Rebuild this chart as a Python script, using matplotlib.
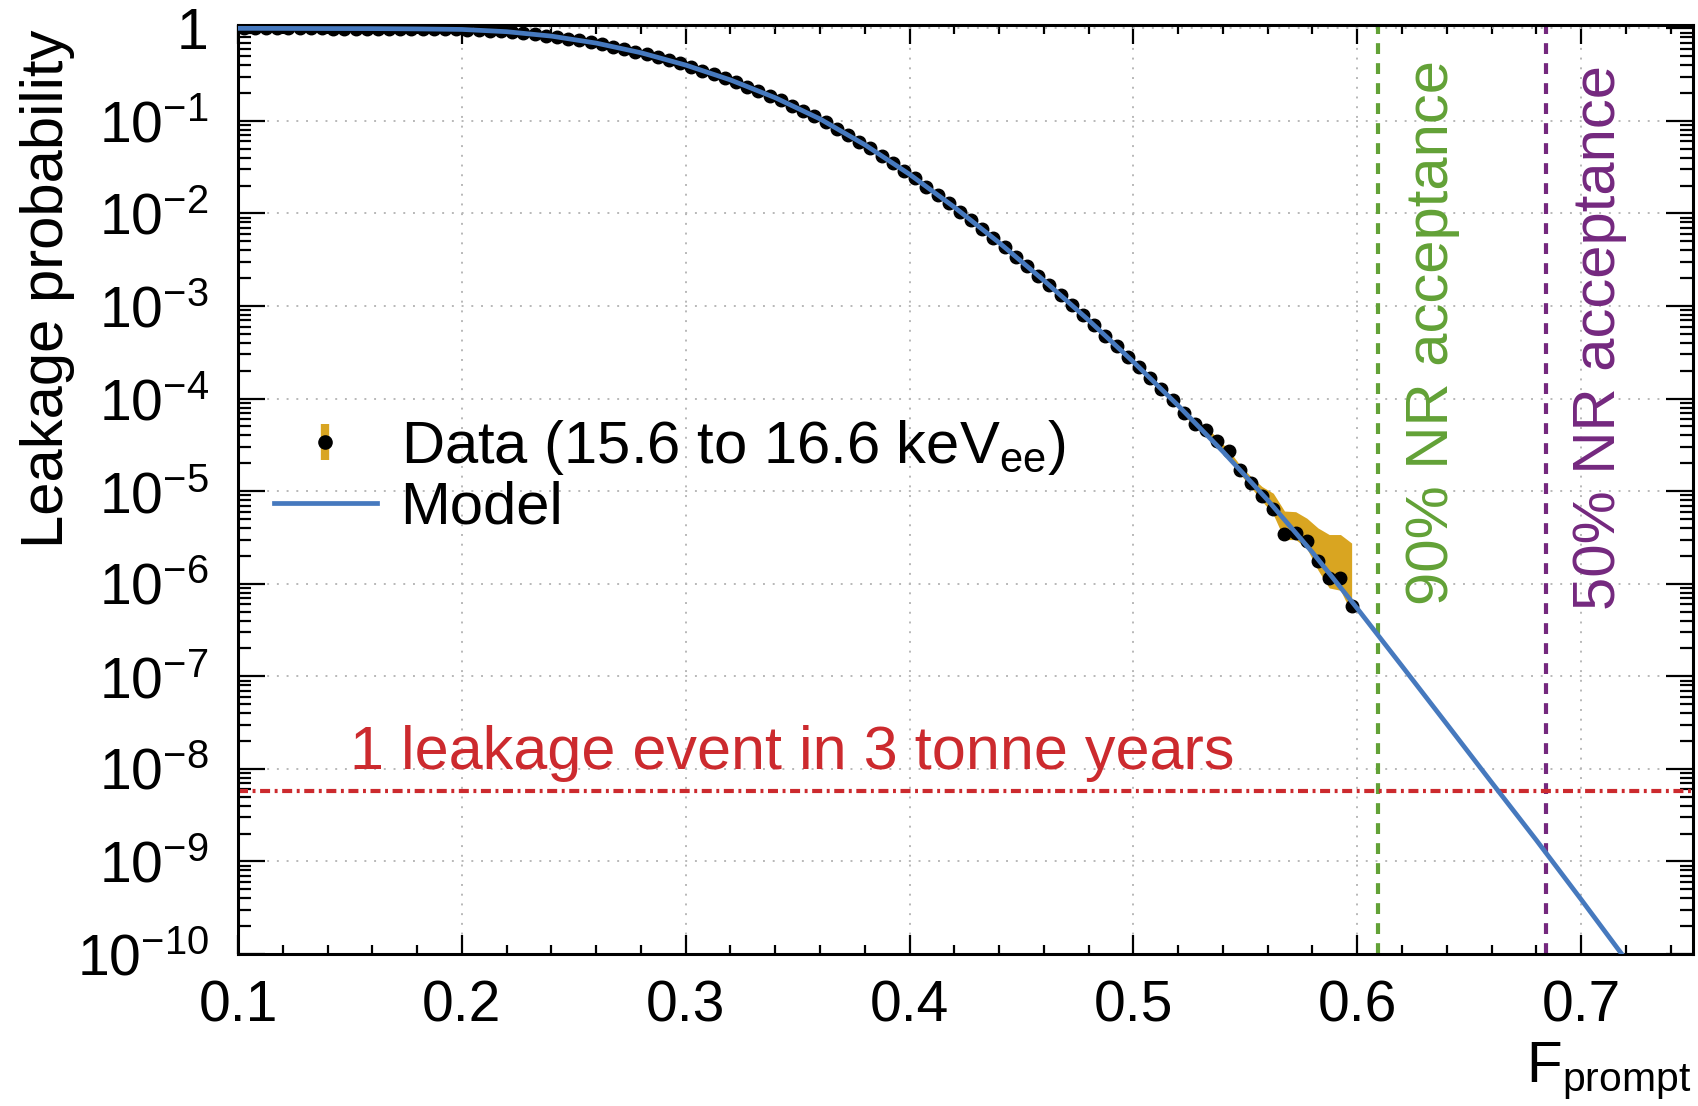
import numpy as np
import matplotlib
matplotlib.use("Agg")
import matplotlib.pyplot as plt
from matplotlib.ticker import MultipleLocator, LogLocator, FuncFormatter, NullFormatter
from matplotlib.lines import Line2D
from matplotlib.legend_handler import HandlerTuple

# ---------------- data ----------------
# Data histogram: bins of width 0.005 in F_prompt starting at 0.100
bin_start = 0.100
bin_width = 0.005
data_prob = [
    1.000, 1.000, 0.999, 0.999, 0.998, 0.997, 0.997, 0.996, 0.995, 0.995,
    0.994, 0.993, 0.992, 0.991, 0.989, 0.987, 0.985, 0.981, 0.978, 0.974,
    0.966, 0.953, 0.940, 0.927, 0.908, 0.883, 0.859, 0.836, 0.806, 0.772,
    0.740, 0.709, 0.673, 0.633, 0.596, 0.561, 0.524, 0.485, 0.450, 0.417,
    0.383, 0.349, 0.318, 0.290, 0.262, 0.235, 0.210, 0.188, 0.167, 0.146,
    0.128, 0.112, 0.0969, 0.0825, 0.0704, 0.0599, 0.0505, 0.0420, 0.0349, 0.0290,
    0.0239, 0.0195, 0.0159, 0.0130, 0.0105, 8.40e-3, 6.74e-3, 5.40e-3, 4.31e-3, 3.40e-3,
    2.69e-3, 2.13e-3, 1.67e-3, 1.31e-3, 1.02e-3, 7.96e-4, 6.17e-4, 4.77e-4, 3.68e-4, 2.84e-4,
    2.18e-4, 1.66e-4, 1.26e-4, 9.60e-5, 6.97e-5, 5.30e-5, 4.60e-5, 3.44e-5, 2.69e-5, 1.70e-5,
    1.22e-5, 8.77e-6, 6.41e-6, 3.47e-6, 3.52e-6, 2.91e-6, 1.74e-6, 1.15e-6, 1.15e-6, 5.69e-7,
]
# Error band on the tail (last 16 bins)
band_upper = [7.4e-5, 5.8e-5, 5.0e-5, 3.74e-5, 2.80e-5, 1.93e-5, 1.44e-5, 1.12e-5,
              9.5e-6, 6.1e-6, 6.0e-6, 5.1e-6, 4.0e-6, 3.4e-6, 3.4e-6, 2.75e-6]
band_lower = [6.6e-5, 5.0e-5, 4.3e-5, 3.2e-5, 2.5e-5, 1.55e-5, 1.10e-5, 7.8e-6,
              5.6e-6, 3.0e-6, 3.0e-6, 2.4e-6, 1.4e-6, 9.0e-7, 8.5e-7, 4.82e-7]

# Model curve
model_f = [0.10, 0.12, 0.14, 0.16, 0.18, 0.20, 0.22, 0.24, 0.26, 0.28,
           0.30, 0.32, 0.34, 0.36, 0.38, 0.40, 0.42, 0.44, 0.46, 0.48,
           0.50, 0.52, 0.54, 0.56, 0.58, 0.60, 0.62, 0.64, 0.66, 0.68,
           0.70, 0.72]
model_prob = [1.000, 0.998, 0.995, 0.993, 0.986, 0.973, 0.920, 0.824, 0.693, 0.545,
              0.401, 0.277, 0.178, 0.105, 0.0553, 0.0265, 0.0117, 4.84e-3, 1.89e-3, 7.03e-4,
              2.49e-4, 8.41e-5, 2.68e-5, 8.00e-6, 2.18e-6, 5.41e-7, 1.29e-7, 3.05e-8, 7.16e-9, 1.70e-9,
              3.89e-10, 8.71e-11]

nr90_f = 0.6094
nr50_f = 0.6845
one_event_level = 5.8e-9

# ---------------- style ----------------
plt.rcParams['font.family'] = ['Liberation Sans', 'DejaVu Sans']
plt.rcParams['mathtext.fontset'] = 'custom'
plt.rcParams['mathtext.rm'] = 'Liberation Sans'
plt.rcParams['mathtext.it'] = 'Liberation Sans:italic'
plt.rcParams['mathtext.bf'] = 'Liberation Sans:bold'
plt.rcParams['mathtext.sf'] = 'Liberation Sans'
plt.rcParams['mathtext.default'] = 'regular'

BLUE = '#4679be'
GOLD = '#d9a521'
GREEN = '#62a136'
PURPLE = '#74287e'
RED = '#cc2a2e'

W, H = 1699, 1106
fig = plt.figure(figsize=(W / 100, H / 100), dpi=100)
ax = fig.add_axes([238 / W, 1 - 954 / H, (1693 - 238) / W, (954 - 24.5) / H])

f_centers = bin_start + bin_width * (np.arange(len(data_prob)) + 0.5)
nb = len(band_upper)

ax.set_yscale('log')
ax.set_xlim(0.1, 0.75)
ax.set_ylim(1e-10, 1.10)

ax.set_axisbelow(True)
ax.grid(True, which='major', color='#b8b8b8', linestyle=(0, (1, 4)), linewidth=1.4)

ax.axvline(nr90_f, color=GREEN, linestyle=(0, (2.6, 2.2)), lw=3.0, zorder=2)
ax.axvline(nr50_f, color=PURPLE, linestyle=(0, (2.6, 2.2)), lw=3.0, zorder=2)
ax.axhline(one_event_level, color=RED, linestyle=(0, (2.4, 1.1, 0.7, 1.1)), lw=3.0, zorder=2)

ax.fill_between(f_centers[-nb:], band_lower, band_upper, color=GOLD, lw=0, zorder=3)
ax.plot(f_centers, data_prob, 'o', color='black', markersize=9, zorder=4)
ax.plot(model_f, model_prob, '-', color=BLUE, lw=3.4, zorder=5)

# ticks
ax.xaxis.set_major_locator(MultipleLocator(0.1))
ax.xaxis.set_minor_locator(MultipleLocator(0.02))
ax.xaxis.set_major_formatter(FuncFormatter(lambda v, p: '%.1f' % v))
ax.yaxis.set_major_locator(LogLocator(base=10, numticks=30))
ax.yaxis.set_minor_locator(LogLocator(base=10, subs=np.arange(2, 10), numticks=200))
ax.yaxis.set_minor_formatter(NullFormatter())


def yfmt(v, pos):
    e = int(round(np.log10(v)))
    return '1' if e == 0 else r'$10^{%d}$' % e


ax.yaxis.set_major_formatter(FuncFormatter(yfmt))

ax.tick_params(axis='both', which='both', direction='in', top=True, right=True,
               width=1.6, colors='black', labelsize=41)
ax.tick_params(axis='y', which='major', length=19.5, pad=21)
ax.tick_params(axis='y', which='minor', length=9.5)
ax.tick_params(axis='x', which='major', length=13.7, pad=18)
ax.tick_params(axis='x', which='minor', length=6.8)
for s in ax.spines.values():
    s.set_linewidth(2.2)

# axis titles
fig.text(48 / W, 1 - 30 / H, 'Leakage probability', rotation=90, ha='center', va='top',
         fontsize=43)
fig.text(1691 / W, 1 - 1082 / H, r'F$_{\mathrm{prompt}}$', ha='right', va='baseline',
         fontsize=42)

# annotations
fig.text(350 / W, 1 - 769 / H, '1 leakage event in 3 tonne years', color=RED,
         ha='left', va='baseline', fontsize=44)
fig.text(1432 / W, 1 - 605 / H, '90% NR acceptance', color=GREEN, rotation=90,
         ha='center', va='bottom', fontsize=43)
fig.text(1600 / W, 1 - 610 / H, '50% NR acceptance', color=PURPLE, rotation=90,
         ha='center', va='bottom', fontsize=43)

# legend
h_data = (Line2D([], [], color=GOLD, marker='|', markersize=26, mew=6, linestyle='none'),
          Line2D([], [], color='black', marker='o', markersize=9.5, linestyle='none'))
h_model = Line2D([], [], color=BLUE, lw=3.4)
ax.legend([h_data, h_model],
          [r'Data (15.6 to 16.6 keV$_{\mathrm{ee}}$)', 'Model'],
          handler_map={tuple: HandlerTuple(ndivide=1, pad=0)},
          loc='upper left', bbox_to_anchor=(274 / W, 1 - 418 / H),
          bbox_transform=fig.transFigure, frameon=False, fontsize=43,
          handlelength=1.72, handletextpad=0.4, labelspacing=0.06,
          borderpad=0, borderaxespad=0)

fig.savefig('out.png', dpi=100)
